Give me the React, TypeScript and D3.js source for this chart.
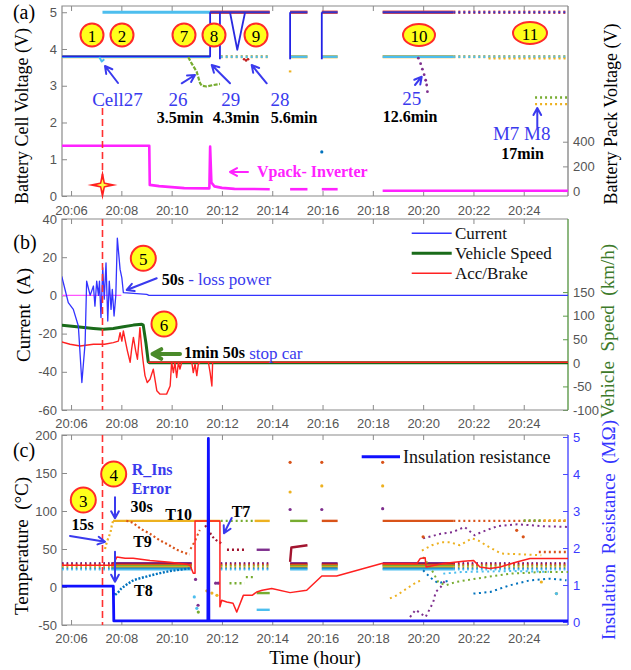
import React, { useEffect, useRef } from "react";
import * as d3 from "d3";

type Pt = [number, number];

// time axis: minutes after 20:00
const timeDomain: Pt = [5.64, 25.76];
const timeTicks = [6, 8, 10, 12, 14, 16, 18, 20, 22, 24];
const timeLabels = ["20:06", "20:08", "20:10", "20:12", "20:14", "20:16", "20:18", "20:20", "20:22", "20:24"];
const faultTime = 7.25;

// ---- (a) cell voltage (V) / pack voltage (V)
const cellVTicks = [0, 1, 2, 3, 4, 5];
const packVTicks = [0, 200, 400];
const cellTopCyan: Pt[] = [[7.25, 5], [11.53, 5]];
const cellTopSolid: Pt[][] = [
  [[11.53, 5], [13.9, 5]],
  [[14.71, 5], [15.4, 5]],
  [[15.97, 5], [16.6, 5]],
  [[18.39, 5], [21.2, 5]],
];
const cellTopDip: Pt[] = [[12.32, 5], [12.61, 3.98], [12.92, 5]];
const cellTopDotted: Pt[] = [[21.2, 5], [25.76, 5]];
const cellJumps: Pt[][] = [
  [[5.64, 3.8], [11.53, 3.8], [11.53, 5]],
  [[11.92, 3.72], [11.92, 5]],
  [[14.71, 3.72], [14.71, 5]],
  [[15.97, 3.72], [15.97, 5]],
];
const cellBandSolid: Pt[][] = [
  [[5.64, 3.79], [11.53, 3.79]],
  [[14.71, 3.79], [15.4, 3.79]],
  [[15.97, 3.79], [16.6, 3.79]],
  [[18.39, 3.79], [21.2, 3.79]],
];
const cellBandDotted: Pt[][] = [
  [[11.95, 3.79], [13.9, 3.79]],
  [[21.2, 3.79], [25.76, 3.79]],
];
const cellLowOrange: Pt[] = [[22.6, 3.74], [25.76, 3.74]];
const cell26: Pt[] = [[10.66, 3.78], [10.8, 3.6], [10.99, 3.39], [11.13, 3.07], [11.2, 3.0], [11.39, 2.98], [11.66, 3.02], [11.92, 3.05]];
const cell27: Pt[] = [[7.12, 3.78], [7.22, 3.66], [7.32, 3.72]];
const cell28: Pt[] = [[12.88, 3.72], [12.96, 3.69], [13.04, 3.72]];
const cell25: Pt[] = [[19.81, 3.75], [19.9, 3.6], [19.97, 3.45], [20.04, 3.3], [20.1, 3.15], [20.14, 3.02], [20.17, 2.84]];
const cellM7: Pt[] = [[24.45, 2.68], [25.76, 2.68]];
const cellM8: Pt[] = [[24.45, 2.5], [25.76, 2.5]];
const strayOrange: Pt[] = [[14.66, 3.39], [14.76, 3.39]];
const strayBlue: Pt[] = [[15.97, 1.2]];
const vpack: Pt[][] = [
  [[5.64, 367], [9.11, 367], [9.13, 50], [9.5, 40], [10.5, 24], [11.5, 22], [11.53, 360], [11.58, 70], [11.7, 38], [12.0, 26], [12.5, 18], [13.9, 15]],
  [[14.71, 15], [15.4, 15]],
  [[15.97, 15], [16.6, 15]],
  [[18.39, 2], [25.76, 2]],
];

// ---- (b) current (A), speed (km/h), acc/brake
const currentTicks = [-60, -40, -20, 0, 20, 40];
const speedTicks = [-100, -50, 0, 50, 100, 150];
const current: Pt[] = [
  [5.63, 10], [5.76, 3.1], [5.89, -3.8], [6.09, -7.3], [6.29, -16], [6.43, -45.6], [6.56, -24.7], [6.62, 7.5],
  [6.76, 0], [6.89, 4.9], [6.95, -5.6], [7.02, 7.5], [7.09, 0], [7.13, 7.5], [7.19, -11.6], [7.26, 14.5],
  [7.32, -2], [7.39, 17], [7.46, -13.4], [7.52, 7.5], [7.59, -7.3], [7.64, 3.1], [7.71, -10.8], [7.78, 0],
  [7.84, 30], [7.95, 13.6], [8.02, 9.2], [8.08, 1.4], [9.01, 0.5], [9.1, 0], [25.76, 0],
];
const currentZero: Pt[] = [[5.64, 0], [8.0, 0]];
const speed: Pt[] = [
  [5.63, 80], [6.23, 76.5], [6.89, 73], [7.28, 71], [7.68, 73], [8.08, 76.5], [8.48, 80], [8.81, 82],
  [8.87, 80], [8.98, 41], [9.07, 2.3], [9.11, 0], [25.76, 0],
];
const accBrake: Pt[] = [
  [5.63, -24.4], [5.96, -25.6], [6.36, -26.5], [6.89, -25.6], [7.33, -25.6], [7.68, -24.7], [7.88, -23.9],
  [7.95, -19.5], [8.02, -23.9], [8.08, -18.6], [8.16, -23.9], [8.24, -29], [8.35, -35], [8.41, -28],
  [8.48, -22], [8.57, -29], [8.64, -33.4], [8.74, -16.9], [8.81, -28], [8.87, -35], [8.94, -42],
  [9.03, -45.6], [9.14, -43.9], [9.27, -38.6], [9.41, -49.9], [9.54, -51.7], [9.8, -51.7], [9.94, -47.4],
  [10.0, -35], [10.07, -40.4], [10.13, -35], [10.2, -43], [10.27, -35], [10.33, -38.6], [10.4, -35],
  [10.8, -35], [10.86, -40.4], [10.93, -36], [11.0, -42], [11.06, -36], [11.13, -35], [11.46, -35],
  [11.53, -40.4], [11.6, -47.4], [11.63, -35],
];
const accFlat: Pt[] = [[9.06, -35], [25.76, -35]];
const legendB = ["Current", "Vehicle Speed", "Acc/Brake"];

// ---- (c) temperature (°C), insulation resistance (MΩ)
const tempTicks = [-50, 0, 50, 100, 150, 200];
const resTicks = [0, 1, 2, 3, 4, 5];
const insRes: Pt[] = [[5.64, 0.97], [7.68, 0.97], [7.7, 0.03], [11.44, 0.03], [11.46, 4.96], [11.48, 0.03], [25.76, 0.03]];
const tempRed: Pt[] = [
  [5.64, 28.5], [7.67, 28.5], [7.82, 39.5], [8.15, 37.8], [8.47, 37.8], [9.14, 35], [9.94, 32.5], [10.6, 30],
  [10.73, 28.5], [10.86, 18], [10.93, 18], [10.93, 87], [11.92, 87], [11.92, -26], [11.99, -17.5],
  [12.19, -19.7], [12.44, -21.4], [12.59, -33], [12.85, -11], [13.2, -11], [13.38, -6.6], [13.6, -4.3],
  [13.98, -2], [14.71, -7.4], [15.37, -4.3], [15.97, 14.5], [16.56, 14.5], [18.35, 30.8], [19.75, 30.8],
  [19.88, 37.4], [20.08, 38.4], [20.12, 26.3], [20.8, 30.8], [21.6, 33.8], [22.0, 35], [22.26, 26.3],
  [22.66, 24.2], [23.06, 26.3], [23.72, 32.9], [24.25, 37.4], [25.76, 37.4],
];
const bandColors = ["#7e2f8e", "#a2142f", "#d95319", "#77ac30", "#edb120", "#0072bd", "#4dbeee"];
const bandLevels = [31.5, 30, 29, 27.5, 26, 24.5, 23];
const bandSolid: Pt[] = [[7.6, 10.8], [14.71, 15.4], [15.97, 16.6], [18.39, 21.2]];
const bandDotted: Pt[] = [[5.64, 7.6], [11.95, 13.9], [21.2, 25.76]];
const t10Rise: Pt[] = [[7.35, 50], [7.42, 59], [7.5, 66], [7.57, 72], [7.62, 81], [7.67, 87]];
const t9: Pt[] = [[8.2, 87], [8.35, 86], [8.48, 84], [8.8, 76], [9.14, 70], [9.5, 62], [9.9, 55], [10.2, 49], [10.5, 45], [10.72, 43]];
const t9b: Pt[] = [[10.75, 50], [10.85, 56], [10.95, 62], [11.05, 70], [11.12, 75]];
const t8: Pt[] = [[7.67, -3], [7.72, -11], [7.85, -8], [8.0, -2], [8.2, 3], [8.48, 9], [8.8, 12], [9.14, 15], [9.5, 18], [9.94, 21], [10.4, 23], [10.8, 25]];
const t7: Pt[] = [[11.33, 81], [11.45, 76], [11.6, 67], [11.75, 62], [11.9, 59], [12.0, 57]];
// level segments: [color, t0, t1, value, dotted]
const levelSegs: [string, number, number, number, boolean][] = [
  ["#edb120", 7.67, 11.92, 87, false],
  ["#77ac30", 11.95, 13.3, 87, true],
  ["#edb120", 13.3, 13.9, 87, false],
  ["#77ac30", 14.71, 15.4, 87, false],
  ["#d95319", 15.97, 16.6, 87, false],
  ["#d95319", 18.39, 21.2, 87, false],
  ["#d95319", 21.2, 25.76, 87, true],
  ["#77ac30", 24.0, 24.8, 87.5, true],
  ["#edb120", 24.8, 25.76, 87.5, true],
  ["#a2142f", 12.2, 12.9, 49, true],
  ["#7e2f8e", 13.38, 13.9, 49, false],
  ["#77ac30", 12.3, 12.9, 5, true],
  ["#77ac30", 12.95, 13.3, 13, true],
  ["#77ac30", 13.38, 13.9, -8, false],
  ["#4dbeee", 13.38, 13.9, -30, false],
  ["#d95319", 24.6, 25.76, 46, true],
];
const t7s1: Pt[] = [[14.71, 33], [14.76, 52], [15.4, 55]];
const strayDots: [string, number, number][] = [
  ["#7e2f8e", 10.95, 10], ["#7e2f8e", 11.05, -24], ["#7e2f8e", 11.75, 5], ["#7e2f8e", 11.85, 5],
  ["#4dbeee", 10.9, -13], ["#4dbeee", 11.0, -28], ["#77ac30", 11.06, -33],
  ["#edb120", 11.4, -5], ["#edb120", 11.6, -8], ["#edb120", 11.8, -11],
  ["#d95319", 14.71, 164], ["#d95319", 15.97, 164], ["#d95319", 18.39, 164],
  ["#edb120", 14.71, 125], ["#edb120", 15.97, 133], ["#edb120", 18.39, 133],
  ["#7e2f8e", 14.71, 102], ["#7e2f8e", 15.97, 102], ["#7e2f8e", 18.39, 103],
  ["#d95319", 20.0, 66], ["#d95319", 23.72, 74.6], ["#d95319", 23.98, 66],
  ["#edb120", 24.7, 6.6], ["#edb120", 25.3, -8.7], ["#4dbeee", 25.3, -8.7],
];
const lateCurves: [string, Pt[]][] = [
  ["#edb120", [[18.68, -15], [18.95, -11], [19.35, -2], [19.75, 6.6], [19.95, 9]]],
  ["#edb120", [[19.95, 48], [20.35, 55], [20.75, 59], [21.07, 59], [21.45, 55], [21.95, 64], [22.2, 61], [22.6, 53], [23.1, 44], [23.9, 43], [24.7, 41.7]]],
  ["#7e2f8e", [[19.48, -39.5], [19.7, -30], [20.1, -39.5], [20.4, -20], [20.5, -6.6], [20.7, 0], [20.9, 10]]],
  ["#7e2f8e", [[20.0, 64], [20.7, 70], [21.15, 72], [21.65, 79], [22.05, 68], [22.3, 72], [22.95, 80], [23.75, 82.5], [24.8, 80], [25.76, 79]]],
  ["#0072bd", [[20.0, 22], [20.3, 12], [20.6, 5], [21.0, 8]]],
  ["#0072bd", [[22.0, -8.7], [22.66, -6.6], [23.45, 2.2], [24.25, 8.8], [25.05, 11], [25.7, 8.8]]],
  ["#77ac30", [[20.0, 39.5], [20.3, 25], [20.6, 6.6], [20.9, 2.2], [21.3, 6.6], [22.1, 11], [23.45, 17.6], [24.75, 19.7], [25.76, 19.7]]],
  ["#4dbeee", [[20.8, 17.6], [21.5, 19.7], [23.5, 21], [25.0, 20]]],
];

export default function App() {
  const ref = useRef<SVGSVGElement>(null);

  useEffect(() => {
    const svg = d3.select(ref.current);
    svg.selectAll("*").remove();
    const left = 62, right = 568;
    const serif = "'Liberation Serif', 'Times New Roman', serif";
    const sans = "'Liberation Sans', Arial, sans-serif";
    const gray = "#8a8a8a";
    const x = d3.scaleLinear().domain(timeDomain).range([left, right]);

    const yA = d3.scaleLinear().domain([0, 5.17]).range([196, 6]);
    const yAR = d3.scaleLinear().domain([-40, 1500]).range([196, 6]);
    const yB = d3.scaleLinear().domain([-60, 40]).range([410, 219]);
    const yBR = d3.scaleLinear().domain([-100, 305]).range([410, 219]);
    const yC = d3.scaleLinear().domain([-50, 200]).range([625, 435]);
    const yCR = d3.scaleLinear().domain([-0.08, 5.054]).range([625, 435]);

    const styleAxis = (s: any, color: string, text: string) => {
      s.attr("font-family", sans).attr("font-size", 13);
      s.select(".domain").remove();
      s.selectAll(".tick line").attr("stroke", color);
      s.selectAll(".tick text").attr("fill", text);
    };

    const frame = (id: string, yl: any, lt: number[], yr: any, rt: number[], rColor: string, rText: string, xPad: number) => {
      const [bottom, top] = yl.range();
      const g = svg.append("g");
      g.append("g").attr("transform", `translate(0,${bottom})`)
        .call(d3.axisBottom(x).tickValues(timeTicks).tickFormat((_: any, i: number) => timeLabels[i]).tickSize(-5).tickPadding(xPad))
        .call((s: any) => styleAxis(s, gray, "#555"));
      g.append("g").attr("transform", `translate(0,${top})`)
        .call(d3.axisTop(x).tickValues(timeTicks).tickFormat(() => "").tickSize(-5))
        .call((s: any) => styleAxis(s, gray, "#555"));
      g.append("g").attr("transform", `translate(${left},0)`)
        .call(d3.axisLeft(yl).tickValues(lt).tickFormat((d: any) => String(d)).tickSize(-5).tickPadding(5))
        .call((s: any) => styleAxis(s, gray, "#555"));
      g.append("g").attr("transform", `translate(${right},0)`)
        .call(d3.axisRight(yr).tickValues(rt).tickFormat((d: any) => String(d)).tickSize(-5).tickPadding(5))
        .call((s: any) => styleAxis(s, rColor, rText));
      g.append("path").attr("d", `M${right},${top}H${left}V${bottom}H${right}`)
        .attr("fill", "none").attr("stroke", gray).attr("stroke-width", 1.2);
      g.append("line").attr("x1", right).attr("x2", right).attr("y1", top).attr("y2", bottom)
        .attr("stroke", rColor).attr("stroke-width", 1.4);
      svg.append("clipPath").attr("id", "clip-" + id)
        .append("rect").attr("x", left).attr("y", top).attr("width", right - left).attr("height", bottom - top);
      return svg.append("g").attr("clip-path", `url(#clip-${id})`);
    };

    const draw = (g: any, pts: Pt[], sy: any, color: string, w: number, dash: string | null = null) =>
      g.append("path").datum(pts)
        .attr("d", d3.line<Pt>().x((d) => x(d[0])).y((d) => sy(d[1])))
        .attr("fill", "none").attr("stroke", color).attr("stroke-width", w)
        .attr("stroke-dasharray", dash).attr("stroke-linejoin", "round");
    const dots = (g: any, pts: Pt[], sy: any, color: string, r = 1.4) =>
      g.append("g").selectAll("circle").data(pts).join("circle")
        .attr("cx", (d: Pt) => x(d[0])).attr("cy", (d: Pt) => sy(d[1])).attr("r", r).attr("fill", color);

    const text = (s: string, tx: number, ty: number, o: any = {}) =>
      svg.append("text").attr("x", tx).attr("y", ty).text(s)
        .attr("font-family", o.family ?? serif).attr("font-size", o.size ?? 16)
        .attr("font-weight", o.bold ? "bold" : null).attr("fill", o.color ?? "#000")
        .attr("text-anchor", o.anchor ?? "middle").attr("dominant-baseline", "central");
    const vtitle = (s: string, tx: number, ty: number, color = "#000", size = 19) =>
      svg.append("text").attr("transform", `translate(${tx},${ty}) rotate(-90)`).text(s)
        .attr("font-family", serif).attr("font-size", size).attr("fill", color)
        .attr("text-anchor", "middle").attr("dominant-baseline", "central").style("white-space", "pre");
    const arrow = (x1: number, y1: number, x2: number, y2: number, color: string, w = 2, head = 8) => {
      const a = Math.atan2(y2 - y1, x2 - x1);
      const p = d3.path();
      p.moveTo(x1, y1); p.lineTo(x2, y2);
      p.moveTo(x2 - head * Math.cos(a - 0.5), y2 - head * Math.sin(a - 0.5));
      p.lineTo(x2, y2);
      p.lineTo(x2 - head * Math.cos(a + 0.5), y2 - head * Math.sin(a + 0.5));
      svg.append("path").attr("d", p.toString()).attr("fill", "none").attr("stroke", color)
        .attr("stroke-width", w).attr("stroke-linecap", "round").attr("stroke-linejoin", "round");
    };
    const badge = (label: string, cx: number, cy: number, rx: number, ry = rx) => {
      svg.append("ellipse").attr("cx", cx).attr("cy", cy).attr("rx", rx).attr("ry", ry)
        .attr("fill", "#ffff1a").attr("stroke", "#ff2a2a").attr("stroke-width", 2);
      text(label, cx, cy + 1, { size: 17 });
    };
    const faultLine = (sy: any, top: number) =>
      svg.append("line").attr("x1", x(faultTime)).attr("x2", x(faultTime))
        .attr("y1", top).attr("y2", sy.range()[0])
        .attr("stroke", "#ff3030").attr("stroke-width", 1.6).attr("stroke-dasharray", "7 4");

    const blueTxt = "#3a3aee";

    // ================= (a)
    const ga = frame("a", yA, cellVTicks, yAR, packVTicks, gray, "#555", 9.5);
    draw(ga, cellTopCyan, yA, "#4dbeee", 3);
    cellTopSolid.forEach((s) => draw(ga, s, yA, "#e04848", 3.4));
    cellTopSolid.forEach((s) => draw(ga, s, yA, "#3434c8", 2));
    draw(ga, cellTopDip, yA, "#2a2ae0", 1.8);
    draw(ga, cellTopDotted, yA, "#e04848", 3.4, "2 3");
    draw(ga, cellTopDotted, yA, "#3434c8", 2, "2 3");
    cellBandSolid.forEach((s) => draw(ga, s, yA, "#edb120", 3.2));
    cellBandSolid.forEach((s) => draw(ga, s, yA, "#4dbeee", 2.4));
    cellBandDotted.forEach((s) => draw(ga, s, yA, "#edb120", 3.2, "2 3"));
    cellBandDotted.forEach((s) => draw(ga, s, yA, "#4dbeee", 2.4, "2 3"));
    draw(ga, cellLowOrange, yA, "#edb120", 2, "2 3");
    cellJumps.forEach((s) => draw(ga, s, yA, "#2222e6", 1.8));
    draw(ga, cell26, yA, "#77ac30", 2.2, "4 1.5");
    draw(ga, cell27, yA, "#4dbeee", 2);
    dots(ga, cell28, yA, "#c02020", 1.3);
    dots(ga, cell25, yA, "#7e2f8e", 1.4);
    draw(ga, cellM7, yA, "#77ac30", 2.4, "2 3");
    draw(ga, cellM8, yA, "#edb120", 2.4, "2 3");
    draw(ga, strayOrange, yA, "#edb120", 2);
    dots(ga, strayBlue, yA, "#0072bd", 1.6);
    vpack.forEach((s) => draw(ga, s, yAR, "#ff22ff", 2.6));
    faultLine(yA, 108);

    // star at the fault
    const star = (r: number, ri: number) => {
      const p = d3.path();
      for (let k = 0; k < 8; k++) {
        const ang = (k * Math.PI) / 4 - Math.PI / 2;
        const rr = k % 2 === 0 ? r : ri;
        const px = x(faultTime) + rr * Math.cos(ang), py = 185 + rr * Math.sin(ang);
        k === 0 ? p.moveTo(px, py) : p.lineTo(px, py);
      }
      p.closePath();
      return p.toString();
    };
    svg.append("path").attr("d", star(15, 3.5)).attr("fill", "#ff2020");
    svg.append("path").attr("d", star(6, 1.8)).attr("fill", "#ffff40");

    badge("1", 92, 35, 11.5);
    badge("2", 122, 35, 11.5);
    badge("7", 184, 35, 11.5);
    badge("8", 214, 35, 11.5);
    badge("9", 256, 35, 11.5);
    badge("10", 419, 35, 16, 11);
    badge("11", 530, 33, 17, 11);

    text("Cell27", 117.5, 99, { size: 19, color: blueTxt });
    text("26", 178, 99, { size: 19, color: blueTxt });
    text("29", 230.7, 99, { size: 19, color: blueTxt });
    text("28", 280, 99, { size: 19, color: blueTxt });
    text("25", 411.7, 98, { size: 19, color: blueTxt });
    text("M7 M8", 521.7, 133, { size: 19, color: blueTxt });
    text("3.5min", 180, 117, { bold: true });
    text("4.3min", 236, 117, { bold: true });
    text("5.6min", 294, 117, { bold: true });
    text("12.6min", 410, 116, { bold: true });
    text("17min", 522.5, 153, { bold: true });
    text("Vpack- Inverter", 257, 171.5, { bold: true, color: "#ff22ff", anchor: "start" });
    arrow(248, 172, 230, 172, "#ff22ff", 2);
    arrow(118, 83, 105, 66, blueTxt);
    arrow(181.7, 83.3, 195, 75, blueTxt);
    arrow(230, 83.3, 211.7, 65, blueTxt);
    arrow(266.7, 83.3, 251.7, 65, blueTxt);
    arrow(415, 85, 421.7, 76.7, blueTxt);
    arrow(537.3, 127, 537.3, 108, blueTxt);

    // ================= (b)
    const gb = frame("b", yB, currentTicks, yBR, speedTicks, "#5d9a4a", "#555", 8.5);
    draw(gb, currentZero, yB, "#ff55ff", 1.4);
    draw(gb, speed, yBR, "#1a6b1a", 3);
    draw(gb, accBrake, yB, "#ff2222", 1.4);
    draw(gb, accFlat, yB, "#ff2222", 1.6);
    draw(gb, current, yB, "#3333ff", 1.3);
    faultLine(yB, 219);

    const legColors = ["#3333ff", "#1a6b1a", "#ff2222"];
    const legWidths = [1.5, 3, 1.5];
    legendB.forEach((s, i) => {
      const ly = 233.3 + i * 20;
      svg.append("line").attr("x1", 411.7).attr("x2", 451.7).attr("y1", ly).attr("y2", ly)
        .attr("stroke", legColors[i]).attr("stroke-width", legWidths[i]);
      text(s, 455, ly, { size: 17, anchor: "start", color: "#111" });
    });

    badge("5", 143.3, 258.3, 12.5);
    badge("6", 164, 324, 12.5);
    const t50 = text("50s", 161.7, 279, { bold: true, anchor: "start" });
    t50.append("tspan").text(" - loss power").attr("font-weight", "normal").attr("fill", blueTxt).attr("font-size", 17);
    const t150 = text("1min 50s", 184, 352.5, { bold: true, anchor: "start" });
    t150.append("tspan").text("  stop car").attr("font-weight", "normal").attr("fill", blueTxt).attr("font-size", 17);
    arrow(156.7, 278.3, 126.7, 290, blueTxt);
    arrow(180, 354, 152.5, 354, "#4a8a2a", 4, 10);

    // ================= (c)
    const gc = frame("c", yC, tempTicks, yCR, resTicks, "#4a4aff", "#3a3aff", 8.5);
    bandColors.forEach((c, i) => {
      bandSolid.forEach(([t0, t1]) => draw(gc, [[t0, bandLevels[i]], [t1, bandLevels[i]]], yC, c, 2));
      bandDotted.forEach(([t0, t1]) => draw(gc, [[t0, bandLevels[i]], [t1, bandLevels[i]]], yC, c, 2, "1.6 3"));
    });
    levelSegs.forEach(([c, t0, t1, v, dotted]) => draw(gc, [[t0, v], [t1, v]], yC, c, 2.4, dotted ? "2 3" : null));
    draw(gc, t10Rise, yC, "#edb120", 2.2, "2 2.5");
    draw(gc, t9, yC, "#d95319", 2.2, "2 2.5");
    draw(gc, t9b, yC, "#d95319", 2, "2 3");
    draw(gc, t8, yC, "#0072bd", 2.4, "2 1.6");
    draw(gc, t7, yC, "#a2142f", 2.2, "2 2.5");
    draw(gc, t7s1, yC, "#a2142f", 2.4);
    lateCurves.forEach(([c, pts]) => draw(gc, pts, yC, c, 2, "2 3.5"));
    strayDots.forEach(([c, t, v]) => dots(gc, [[t, v]], yC, c, 1.6));
    draw(gc, tempRed, yC, "#ff2020", 1.5);
    draw(gc, insRes, yCR, "#1010ff", 2.8);
    faultLine(yC, 435);

    svg.append("line").attr("x1", 361.7).attr("x2", 400).attr("y1", 456.7).attr("y2", 456.7)
      .attr("stroke", "#1010ff").attr("stroke-width", 3);
    text("Insulation resistance", 403, 456.7, { size: 18, anchor: "start", color: "#111" });

    badge("3", 83.3, 500, 12.5);
    badge("4", 113.7, 474, 12.5);
    text("15s", 82.5, 524, { bold: true });
    text("30s", 141.7, 506.7, { bold: true });
    text("R_Ins", 131.7, 469, { bold: true, color: blueTxt, anchor: "start" });
    text("Error", 131.7, 488, { bold: true, color: blueTxt, anchor: "start" });
    text("T10", 178.7, 514.7, { bold: true });
    text("T9", 142.5, 541.7, { bold: true });
    text("T8", 143.3, 590, { bold: true });
    text("T7", 241, 511.7, { bold: true });
    arrow(70, 536, 105, 541.7, blueTxt);
    arrow(115, 497.3, 115, 518.3, blueTxt);
    arrow(115, 551.7, 115, 581.7, blueTxt);
    arrow(231.7, 518, 224, 533.3, blueTxt);

    // panel letters and titles
    text("(a)", 24, 12, { size: 20 });
    text("(b)", 25, 242, { size: 20 });
    text("(c)", 24, 450, { size: 20 });
    vtitle("Battery Cell Voltage (V)", 22, 116, "#000", 18);
    vtitle("Battery Pack Voltage (V)", 611, 114, "#000", 18);
    vtitle("Current  (A)", 23.5, 315);
    vtitle("Vehicle  Speed  (km/h)", 607.7, 331, "#3d7a2a");
    vtitle("Temperature  (\u00B0C)", 21.7, 546);
    vtitle("Insulation  Resistance  (M\u03A9)", 608.3, 530, "#3535ff");
    text("Time (hour)", 315, 657, { size: 19 });
  }, []);

  return (
    <svg ref={ref} width={631} height={670}
      style={{ position: "absolute", left: 0, top: 0, background: "#fff" }} />
  );
}
